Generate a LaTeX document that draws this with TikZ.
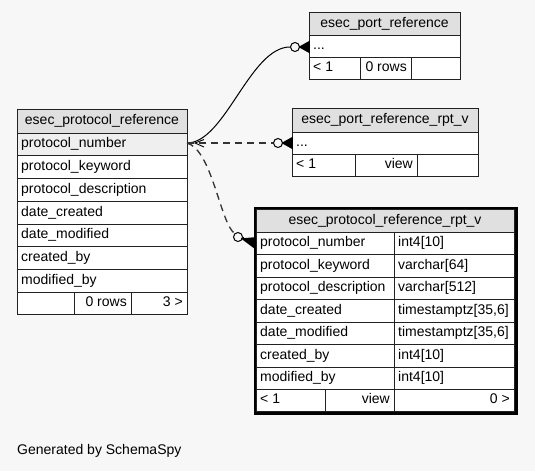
\documentclass[tikz,border=0pt]{standalone}
\usepackage{fontspec}
\setmainfont{Liberation Sans}
\definecolor{bg}{HTML}{F7F7F7}
\definecolor{hdr}{HTML}{E0E0E0}
\definecolor{hil}{HTML}{EFEFEF}
\definecolor{edge}{HTML}{222222}
\definecolor{dashc}{HTML}{333333}
\tikzset{
  cellbox/.style={draw=edge, line width=1pt, inner sep=0pt, outer sep=0pt, anchor=north west},
  celltext/.style={inner sep=0pt, text height=10.5pt, text depth=3pt, font=\fontsize{14}{16}\selectfont},
  crowfoot/.style={line width=1.6pt, draw=black, fill=black, line join=miter},
  odot/.style={draw=black, line width=1pt, fill=bg, circle, minimum size=9pt, inner sep=0pt},
  reldash/.style={draw=dashc, line width=1.3pt, dash pattern=on 7pt off 5pt},
  relsolid/.style={draw=black, line width=1pt},
}
\newcommand\cbox[6]{\node[cellbox, fill=#6, minimum width={(#4-#2)*1pt}, minimum height={(#5-#3)*1pt}] (#1) at (#2,#3) {};}
\newcommand\lt[2]{\node[celltext, anchor=west] (#1t) at ([xshift=4pt]#1.west) {#2};}
\newcommand\rt[2]{\node[celltext, anchor=east] (#1t) at ([xshift=-4pt]#1.east) {#2};}
\newcommand\ct[2]{\node[celltext] (#1t) at (#1.center) {#2};}
\begin{document}
\begin{tikzpicture}[x=1pt,y=-1pt]
\fill[bg] (0,0) rectangle (535,471);
\useasboundingbox (0,0) rectangle (535,471);

% ---------- esec_port_reference ----------
\cbox{prh}{309}{12}{460}{35}{hdr}\ct{prh}{esec\_port\_reference}
\cbox{prr}{309}{35}{460}{57}{white}\lt{prr}{...}
\cbox{prf1}{309}{57}{360}{79}{white}\lt{prf1}{< 1}
\cbox{prf2}{360}{57}{411}{79}{white}\rt{prf2}{0 rows}
\cbox{prf3}{411}{57}{460}{79}{white}

% ---------- esec_port_reference_rpt_v ----------
\cbox{pvh}{292}{108}{478}{132}{hdr}\ct{pvh}{esec\_port\_reference\_rpt\_v}
\cbox{pvr}{292}{132}{478}{154}{white}\lt{pvr}{...}
\cbox{pvf1}{292}{154}{355}{176}{white}\lt{pvf1}{< 1}
\cbox{pvf2}{355}{154}{417}{176}{white}\rt{pvf2}{view}
\cbox{pvf3}{417}{154}{478}{176}{white}

% ---------- esec_protocol_reference ----------
\cbox{th}{17}{109}{187}{133}{hdr}\ct{th}{esec\_protocol\_reference}
\cbox{t1}{17}{133}{187}{155}{hil}\lt{t1}{protocol\_number}
\cbox{t2}{17}{155}{187}{178}{white}\lt{t2}{protocol\_keyword}
\cbox{t3}{17}{178}{187}{201}{white}\lt{t3}{protocol\_description}
\cbox{t4}{17}{201}{187}{224}{white}\lt{t4}{date\_created}
\cbox{t5}{17}{224}{187}{246}{white}\lt{t5}{date\_modified}
\cbox{t6}{17}{246}{187}{269}{white}\lt{t6}{created\_by}
\cbox{t7}{17}{269}{187}{292}{white}\lt{t7}{modified\_by}
\cbox{tf1}{17}{292}{74}{314}{white}
\cbox{tf2}{74}{292}{131}{314}{white}\rt{tf2}{0 rows}
\cbox{tf3}{131}{292}{187}{314}{white}\rt{tf3}{3 >}

% ---------- esec_protocol_reference_rpt_v ----------
\node[draw=black, line width=2.6pt, inner sep=0pt, anchor=north west, minimum width=261pt, minimum height=205pt] (vout) at (254.3,207.3) {};
\cbox{vh}{256}{209}{514}{232}{hdr}\ct{vh}{esec\_protocol\_reference\_rpt\_v}
\cbox{va1}{256}{232}{394}{254}{white}\lt{va1}{protocol\_number}
\cbox{vb1}{394}{232}{514}{254}{white}\lt{vb1}{int4[10]}
\cbox{va2}{256}{254}{394}{277}{white}\lt{va2}{protocol\_keyword}
\cbox{vb2}{394}{254}{514}{277}{white}\lt{vb2}{varchar[64]}
\cbox{va3}{256}{277}{394}{299}{white}\lt{va3}{protocol\_description}
\cbox{vb3}{394}{277}{514}{299}{white}\lt{vb3}{varchar[512]}
\cbox{va4}{256}{299}{394}{322}{white}\lt{va4}{date\_created}
\cbox{vb4}{394}{299}{514}{322}{white}\lt{vb4}{timestamptz[35,6]}
\cbox{va5}{256}{322}{394}{344}{white}\lt{va5}{date\_modified}
\cbox{vb5}{394}{322}{514}{344}{white}\lt{vb5}{timestamptz[35,6]}
\cbox{va6}{256}{344}{394}{367}{white}\lt{va6}{created\_by}
\cbox{vb6}{394}{344}{514}{367}{white}\lt{vb6}{int4[10]}
\cbox{va7}{256}{367}{394}{389}{white}\lt{va7}{modified\_by}
\cbox{vb7}{394}{367}{514}{389}{white}\lt{vb7}{int4[10]}
\cbox{vf1}{256}{389}{325}{411}{white}\lt{vf1}{< 1}
\cbox{vf2}{325}{389}{394}{411}{white}\rt{vf2}{view}
\cbox{vf3}{394}{389}{514}{411}{white}\rt{vf3}{0 >}

% ---------- connectors ----------
\coordinate (src) at (187,143);
\node[odot] (c1) at (295,47) {};
\node[odot] (c2) at (278,143) {};
\node[odot] (c3) at (238,237) {};
\coordinate (k1) at (300,47);
\coordinate (k2) at (283,143);
\coordinate (k3) at (243,239);

\draw[relsolid] (src) .. controls (225,143) and (250,47) .. (c1.west);
\draw[reldash] (src) -- (c2.west);
\draw[reldash] (src) .. controls (212,150) and (220,222) .. (c3.north west);

% crow's feet at child ends
\draw[crowfoot] (k1) -- (309,42) -- (309,52) -- cycle;
\draw[crowfoot] (k1) -- (prr.west);
\draw[crowfoot] (k2) -- (292,138) -- (292,148) -- cycle;
\draw[crowfoot] (k2) -- (pvr.west);
\draw[crowfoot] (k3) -- (255,238) -- (255,248) -- cycle;
\draw[crowfoot] (k3) -- (va1.west);
\draw[line width=1pt] (c1.east) -- (k1);
\draw[line width=1pt] (c2.east) -- (k2);
\draw[line width=1pt] (c3.east) -- (k3);

% parent end mark
\coordinate (pm) at (195,143);
\draw[line width=0.9pt] (204,139.5) -- (pm) -- (204,147);

\node[celltext, anchor=west] (gen) at (17,451) {Generated by SchemaSpy};
\end{tikzpicture}
\end{document}
